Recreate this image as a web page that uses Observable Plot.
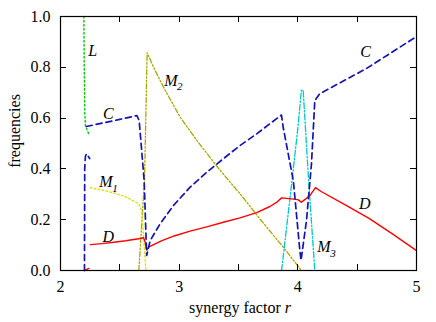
<!DOCTYPE html>
<html>
<head>
<meta charset="utf-8">
<script src="https://cdn.jsdelivr.net/npm/d3@7"></script>
<script src="https://cdn.jsdelivr.net/npm/@observablehq/plot@0.6"></script>
<style>
  html, body { margin: 0; padding: 0; background: #fff; }
  #chart svg { display: block; }
  #chart svg, #chart svg text { font-family: "Liberation Serif", "DejaVu Serif", serif !important; }
</style>
</head>
<body>
<div id="chart"></div>
<script>
// ---- data (x = synergy factor r, y = frequency) ----
const L_line = [[2.197,1.0],[2.200,0.8],[2.205,0.62],[2.210,0.570],[2.238,0.538]];
const C_a = [[2.202,0],[2.204,0.40],[2.210,0.450],[2.220,0.459],[2.246,0.441]];
const C_b = [[2.218,0.567],[2.35,0.580],[2.50,0.595],[2.644,0.610],[2.663,0.590],[2.705,0.354],[2.726,0.059],
             [2.756,0.118],[2.84,0.184],[2.952,0.256],[3.092,0.328],[3.233,0.387],[3.372,0.440],[3.513,0.492],
             [3.653,0.538],[3.765,0.578],[3.862,0.612],[3.878,0.560],[3.962,0.354],[4.017,0.079],[4.027,0.040],
             [4.073,0.197],[4.115,0.420],[4.143,0.669],[4.185,0.696],[4.577,0.795],[5.0,0.921]];
const D_a = [[2.202,0],[2.240,0.008]];
const D_b = [[2.252,0.102],[2.35,0.106],[2.45,0.111],[2.55,0.117],[2.658,0.125],[2.700,0.129],[2.712,0.115],
             [2.728,0.080],[2.745,0.093],[2.776,0.100],[2.85,0.117],[2.958,0.136],[3.092,0.155],[3.233,0.172],
             [3.372,0.190],[3.513,0.207],[3.653,0.228],[3.765,0.252],[3.82,0.268],[3.863,0.286],[3.947,0.282],
             [4.0,0.279],[4.03,0.269],[4.073,0.284],[4.101,0.295],[4.149,0.326],[4.2,0.310],[4.4,0.258],
             [4.6,0.205],[4.8,0.143],[5.0,0.078]];
const M1_line = [[2.252,0.326],[2.35,0.317],[2.45,0.305],[2.55,0.290],[2.658,0.263],[2.685,0.236],[2.72,0.0]];
const M2_line = [[2.66,0],[2.708,0.354],[2.73,0.857],[2.80,0.785],[2.868,0.722],[3.008,0.604],[3.149,0.512],
                 [3.33,0.403],[3.513,0.302],[3.681,0.203],[3.877,0.092],[4.03,0]];
const M3_line = [[3.863,0],[3.95,0.35],[4.0,0.56],[4.03,0.71],[4.045,0.71],[4.09,0.36],[4.143,0]];

// curve labels
const labelText = ["L","C","M","D","M","C","D","M"];
const labelX = [2.271,2.402,2.383,2.402,2.930,4.571,4.565,4.220];
const labelY = [0.866,0.617,0.348,0.131,0.748,0.859,0.263,0.092];
const subText = ["1","2","3"];
const subX = [2.383,2.930,4.220];
const subY = [0.348,0.748,0.092];

// axes
const xTicksAll = [2,2.5,3,3.5,4,4.5,5];
const xTickLabels = [2,3,4,5];
const yTicks = [0,0.2,0.4,0.6,0.8,1.0];
const xLabel = "synergy factor ";
const xLabelVar = "r";
const yLabel = "frequencies";

const FONT = "'Liberation Serif', 'DejaVu Serif', serif";
const colors = {C:"#1414b0", D:"#ff0000", L:"#00c800", M1:"#e0e000", M2:"#a8a800", M3:"#00c8c8"};

const labels = labelText.map((t,i) => ({t, x: labelX[i], y: labelY[i]}));
const subs = subText.map((t,i) => ({t, x: subX[i], y: subY[i]}));
const X = d => d[0], Y = d => d[1];
const TS = 6; // inward tick length (px)

const chart = Plot.plot({
  width: 436, height: 322,
  marginLeft: 60, marginRight: 20, marginTop: 16, marginBottom: 52,
  x: {domain: [2,5]},
  y: {domain: [0,1]},
  style: {fontFamily: FONT, fontSize: "16px", background: "white", color: "black"},
  marks: [
    Plot.line(M2_line, {x: X, y: Y, stroke: colors.M2, strokeWidth: 1.3, strokeDasharray: "5,2,1.5,2,1.5,2"}),
    Plot.line(M1_line, {x: X, y: Y, stroke: colors.M1, strokeWidth: 1.4, strokeDasharray: "1.5,2.5"}),
    Plot.line(L_line, {x: X, y: Y, stroke: colors.L, strokeWidth: 1.4, strokeDasharray: "1.5,2.5"}),
    Plot.line(M3_line, {x: X, y: Y, stroke: colors.M3, strokeWidth: 1.3, strokeDasharray: "6,2,1.5,2"}),
    Plot.line(D_a, {x: X, y: Y, stroke: colors.D, strokeWidth: 1.4}),
    Plot.line(D_b, {x: X, y: Y, stroke: colors.D, strokeWidth: 1.4}),
    Plot.line(C_a, {x: X, y: Y, stroke: colors.C, strokeWidth: 1.7, strokeDasharray: "6,4"}),
    Plot.line(C_b, {x: X, y: Y, stroke: colors.C, strokeWidth: 1.7, strokeDasharray: "6,4"}),
    Plot.text(labels, {x: "x", y: "y", text: "t", fontStyle: "italic", fontSize: 16, fill: "black"}),
    Plot.text(subs, {x: "x", y: "y", text: "t", fontStyle: "italic", fontSize: 11, dx: 9, dy: 6, fill: "black"}),
    Plot.frame({stroke: "black", strokeWidth: 1.2}),
    Plot.axisX({anchor: "bottom", ticks: xTickLabels, tickSize: 0, tickPadding: 10.6, tickFormat: d => String(d), label: null}),
    Plot.axisY({anchor: "left", ticks: yTicks, tickSize: 0, tickPadding: 10, tickFormat: d3.format(".1f"), label: null})
  ]
});

const svg = d3.select(chart);
const sx = chart.scale("x"), sy = chart.scale("y");
const [x0, x1] = sx.range, [y0, y1] = sy.range; // y0 bottom, y1 top

// inward tick marks on all four sides, placed through the Plot scales
const tg = svg.append("g")
  .attr("stroke", "#000").attr("stroke-width", 1.2)
  .attr("shape-rendering", "crispEdges").attr("fill", "none");
for (const v of xTicksAll) {
  const px = Math.round(sx.apply(v)) + 0.5;
  tg.append("path").attr("d", `M${px},${y0}V${y0 - TS}`);
  tg.append("path").attr("d", `M${px},${y1}V${y1 + TS}`);
}
for (const v of yTicks) {
  const py = Math.round(sy.apply(v)) + 0.5;
  tg.append("path").attr("d", `M${x0},${py}H${x0 + TS}`);
  tg.append("path").attr("d", `M${x1},${py}H${x1 - TS}`);
}

// axis titles
const xt = svg.append("text")
  .attr("x", (x0 + x1) / 2 + 2).attr("y", 313)
  .attr("text-anchor", "middle")
  .attr("font-size", 16)
  .attr("fill", "black");
xt.append("tspan").text(xLabel);
xt.append("tspan").attr("font-style", "italic").text(xLabelVar);
svg.append("text")
  .attr("transform", `translate(20,${(y0 + y1) / 2 - 12}) rotate(-90)`)
  .attr("text-anchor", "middle")
  .attr("font-size", 16)
  .attr("fill", "black")
  .text(yLabel);

svg.selectAll("text").style("font-family", FONT);

document.getElementById("chart").appendChild(chart);
</script>
</body>
</html>
